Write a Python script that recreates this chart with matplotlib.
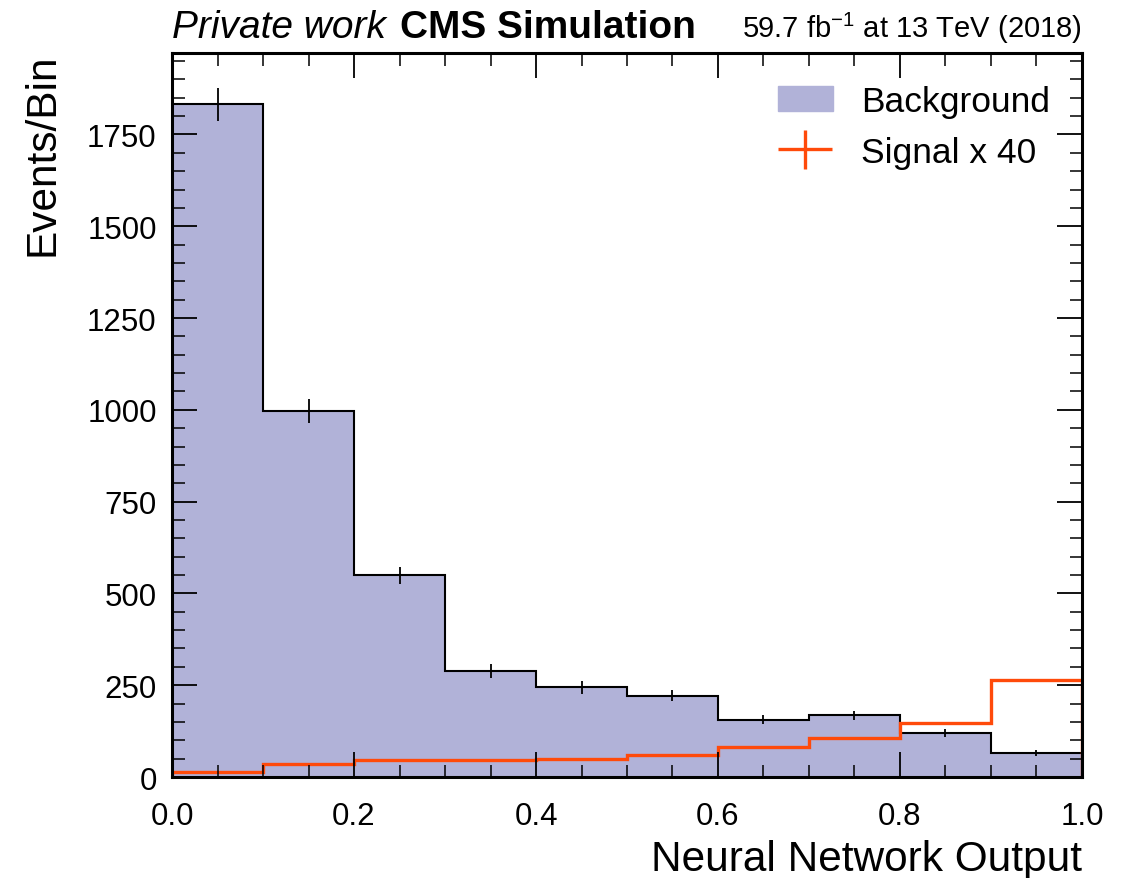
import numpy as np
import matplotlib
matplotlib.use("Agg")
from matplotlib import pyplot as plt
from matplotlib.ticker import MultipleLocator, FormatStrFormatter
from matplotlib.legend_handler import HandlerErrorbar

plt.rcParams['font.family'] = ['Liberation Sans', 'DejaVu Sans']
plt.rcParams['mathtext.fontset'] = 'custom'
plt.rcParams['mathtext.rm'] = 'Liberation Sans'

# bin edges of the network output
edges = [0.0, 0.1, 0.2, 0.3, 0.4, 0.5, 0.6, 0.7, 0.8, 0.9, 1.0]
# background yields and stat. errors
bkg = [1832, 997, 550, 289, 244, 221, 156, 168, 119, 65]
bkg_err = [44, 33, 23, 20, 17, 15, 13, 13, 11, 9]
# signal yields (scaled by 40)
sig = [14, 35, 46, 46, 50, 60, 81, 107, 147, 264]

bkg_color = "#b1b2d8"
sig_color = "#ff4a0a"

fig = plt.figure(figsize=(11.28, 8.79), dpi=100)
ax = fig.add_axes([0.1525, 0.1149, 0.8067, 0.8237])

ax.stairs(bkg, edges, fill=True, color=bkg_color)
ax.stairs(bkg, edges, color="black", lw=1.5)
centers = [(edges[i] + edges[i+1]) / 2 for i in range(len(bkg))]
ax.errorbar(centers, bkg, yerr=bkg_err, fmt="none", ecolor="black", elinewidth=1.3)

ax.stairs(sig, edges, color=sig_color, lw=2.4)
sig_handle = ax.errorbar([np.nan], [np.nan], xerr=[1], yerr=[1], fmt="none",
                         ecolor=sig_color, elinewidth=2.4)

ax.set_xlim(0, 1)
ax.set_ylim(0, 1972)

ax.xaxis.set_major_locator(MultipleLocator(0.2))
ax.xaxis.set_minor_locator(MultipleLocator(0.05))
ax.yaxis.set_major_locator(MultipleLocator(250))
ax.yaxis.set_minor_locator(MultipleLocator(50))
ax.tick_params(which="both", direction="in", top=True, right=True, labelsize=22.5)
ax.tick_params(which="major", length=18, width=1.3)
ax.tick_params(which="minor", length=9, width=1.1)
ax.tick_params(axis="x", which="major", pad=17)
ax.tick_params(axis="y", which="major", pad=11)
ax.xaxis.set_major_formatter(FormatStrFormatter("%.1f"))
for s in ax.spines.values():
    s.set_linewidth(2.2)

ax.set_xlabel("Neural Network Output", fontsize=30.5, loc="right", labelpad=6)
ax.set_ylabel("Events/Bin", fontsize=30.5, loc="top", labelpad=18)

ax.text(0.0, 1.022, "Private work", transform=ax.transAxes, fontsize=28,
        style="italic", ha="left", va="baseline")
ax.text(0.251, 1.022, "CMS Simulation", transform=ax.transAxes, fontsize=28,
        weight="bold", ha="left", va="baseline")
ax.text(1.0, 1.022, r"59.7 fb$^{-1}$ at 13 TeV (2018)", transform=ax.transAxes,
        fontsize=21, ha="right", va="baseline")

ax.legend(handles=[plt.Rectangle((0, 0), 1, 1, color=bkg_color), sig_handle],
          labels=["Background", "Signal x 40"], loc="upper right", fontsize=25.5,
          frameon=False, handlelength=1.55, handleheight=0.7,
          handler_map={sig_handle: HandlerErrorbar(xerr_size=0.76, yerr_size=0.55)})

fig.savefig("out.png", dpi=100)
